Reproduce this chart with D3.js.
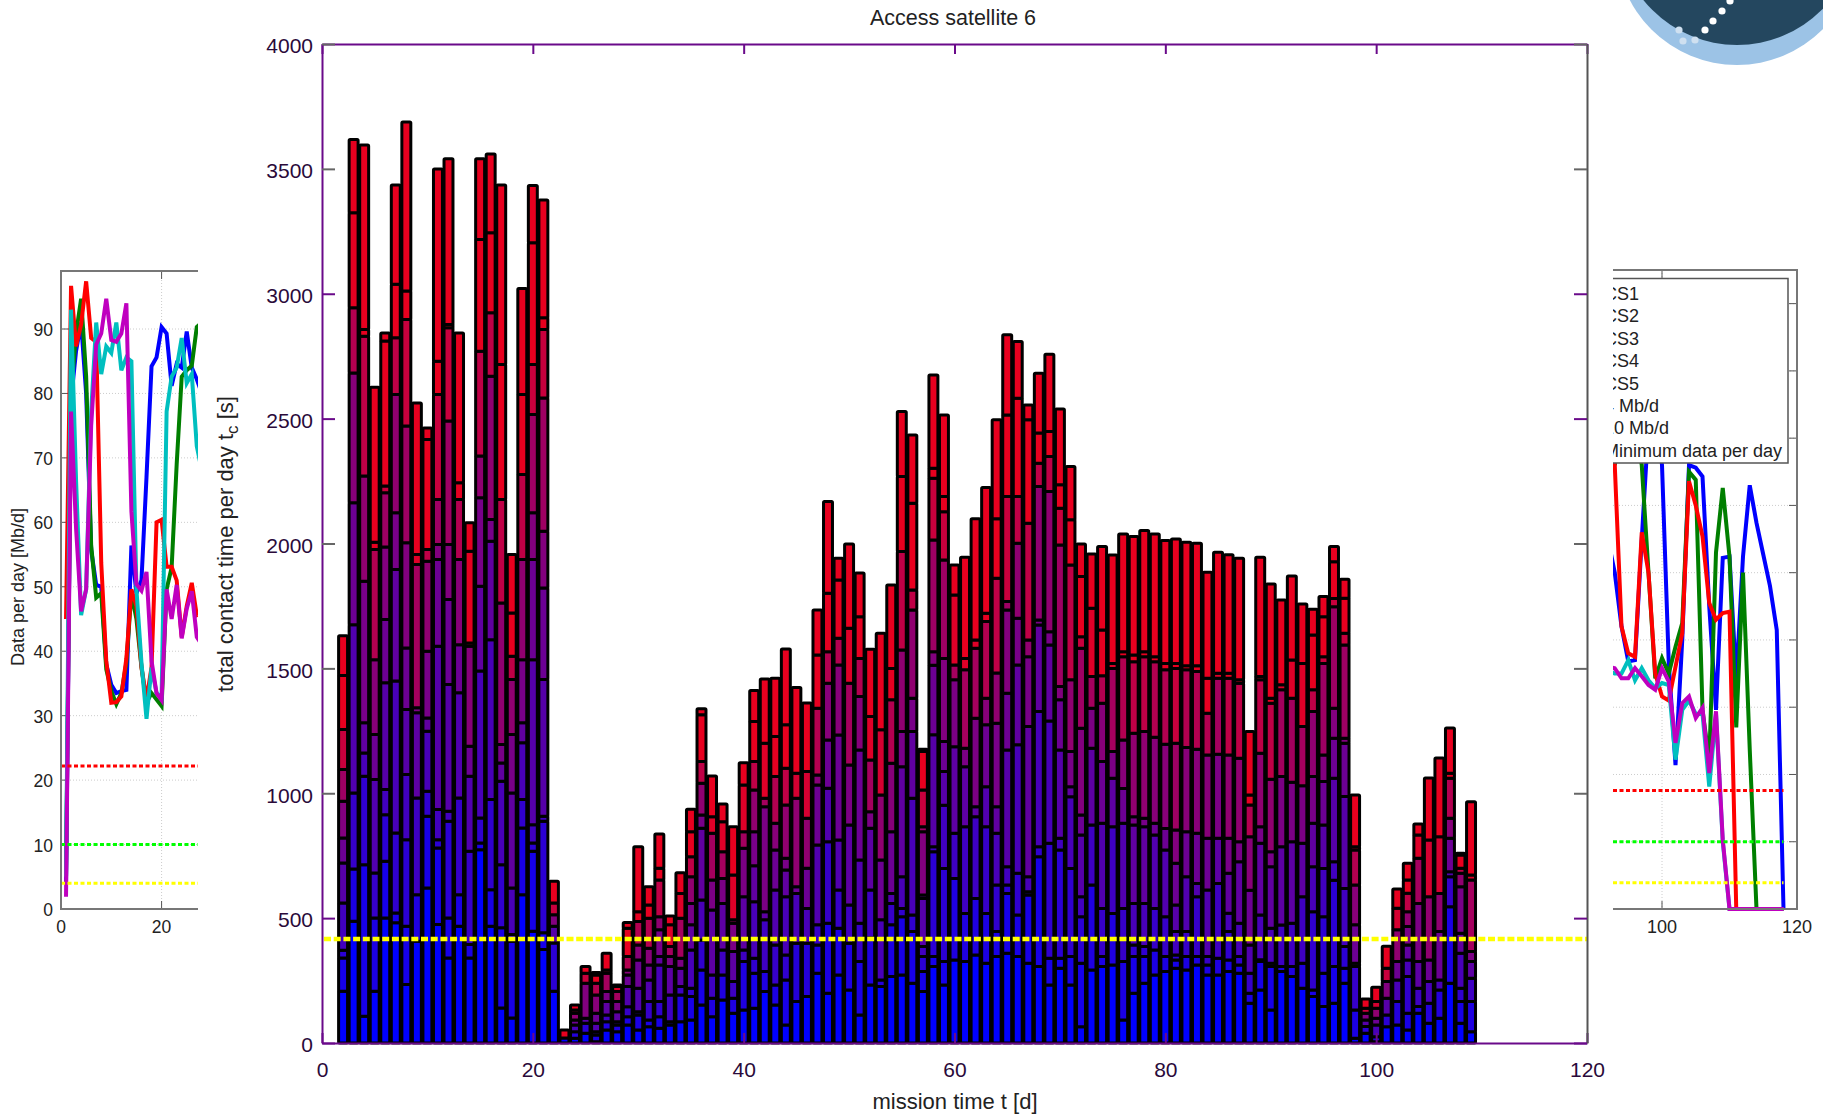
<!DOCTYPE html>
<html>

<head>
    <meta charset="utf-8">
    <title>Access satellite 6</title>
    <script src="https://d3js.org/d3.v7.min.js"></script>
    <style>
        body {
            margin: 0;
            background: white;
            font-family: "Liberation Sans", Arial, sans-serif;
        }

        svg {
            display: block;
        }
    </style>
</head>

<body>
    <div id="chart"></div>
    <script>

        // ---- main chart: cumulative contact time per day, one row per day ----
        var firstDay = 2;
        var contactTops = [
            [207, 340, 371, 561, 721, 821, 968, 1095, 1255, 1471, 1631],
            [487, 697, 1001, 1675, 2163, 2683, 2944, 3324, 3618],
            [107, 714, 1068, 1161, 1282, 1849, 2270, 2830, 2857, 3596],
            [207, 501, 681, 1055, 1235, 1535, 1976, 2005, 2626],
            [501, 728, 914, 1015, 1442, 1696, 1986, 2203, 2230, 2811, 2843],
            [481, 521, 841, 1449, 1896, 2123, 2597, 2824, 3038, 3435],
            [234, 467, 814, 1075, 1335, 1582, 2003, 2470, 2897, 3011, 3688],
            [407, 594, 981, 1322, 1342, 1916, 1956, 2563],
            [621, 908, 1008, 1248, 1301, 1569, 1929, 1976, 2416, 2462],
            [474, 781, 814, 935, 1589, 1936, 1996, 2176, 2597, 2730, 3499],
            [340, 501, 888, 928, 1435, 1776, 1996, 2490, 2864, 2877, 3541],
            [467, 594, 981, 1402, 1595, 1936, 2176, 2243, 2843],
            [340, 394, 768, 1068, 1188, 1589, 1602, 1969, 2083],
            [774, 801, 901, 1489, 1829, 2183, 2350, 2770, 3217, 3541],
            [467, 614, 975, 1615, 2009, 2096, 2670, 2924, 3244, 3560],
            [140, 461, 714, 1048, 1121, 1195, 1762, 2176, 2717, 3435],
            [100, 407, 434, 621, 1001, 1235, 1455, 1549, 1722, 1956],
            [594, 861, 975, 1202, 1282, 1535, 1936, 2276, 2597, 3021],
            [447, 768, 801, 874, 1535, 1936, 2123, 2517, 2717, 3204, 3433],
            [374, 441, 888, 908, 1455, 1822, 2049, 2583, 2857, 2904, 3375],
            [207, 400, 467, 514, 561, 648],
            [20, 52],
            [19, 45, 72, 92, 119, 132, 152],
            [39, 79, 99, 239, 279, 306],
            [5, 32, 45, 79, 119, 192, 239, 272, 282],
            [52, 85, 112, 166, 206, 279, 292, 359],
            [45, 72, 85, 125, 166, 206, 226, 232],
            [72, 105, 145, 226, 272, 292, 346, 459, 482],
            [52, 112, 125, 219, 332, 392, 486, 526, 786],
            [65, 92, 166, 252, 312, 379, 499, 553, 626],
            [59, 105, 166, 312, 346, 453, 506, 653, 700, 837],
            [72, 85, 192, 306, 346, 386, 473, 509],
            [85, 192, 226, 299, 339, 499, 599, 682],
            [92, 186, 219, 372, 473, 559, 666, 746, 846, 936],
            [152, 292, 412, 573, 860, 913, 1040, 1127, 1314, 1338],
            [105, 179, 272, 533, 653, 840, 906, 1069],
            [172, 272, 372, 559, 659, 766, 886, 957],
            [119, 179, 246, 366, 479, 493, 673, 866],
            [132, 326, 372, 586, 780, 846, 1033, 1122],
            [139, 279, 339, 566, 710, 846, 1013, 1127, 1287, 1411],
            [206, 286, 493, 526, 946, 980, 1200, 1457],
            [152, 232, 392, 613, 773, 880, 1067, 1227, 1460],
            [72, 252, 352, 586, 693, 740, 953, 1100, 1274, 1578],
            [166, 399, 599, 626, 980, 1080, 1423],
            [186, 399, 539, 700, 900, 1087, 1361],
            [279, 392, 473, 793, 1033, 1073, 1340, 1554, 1734],
            [199, 479, 806, 1020, 1213, 1440, 1567, 1801, 2168],
            [272, 459, 613, 813, 1233, 1514, 1621, 1854, 1941],
            [212, 399, 553, 873, 1113, 1440, 1661, 1998],
            [112, 326, 479, 733, 1173, 1387, 1540, 1707, 1882],
            [232, 420, 613, 860, 926, 1133, 1307, 1577],
            [226, 252, 493, 733, 993, 1254, 1641],
            [266, 473, 559, 599, 846, 1120, 1374, 1500, 1834],
            [272, 506, 539, 666, 1106, 1247, 1574, 1968, 2268, 2529],
            [239, 446, 513, 980, 1247, 1380, 1734, 1814, 2161, 2434],
            [206, 286, 346, 386, 579, 593, 846, 866, 1013, 1167, 1176],
            [306, 346, 766, 786, 1234, 1513, 1567, 2014, 2261, 2301, 2675],
            [232, 326, 699, 952, 1087, 1207, 1540, 1934, 2127, 2188, 2515],
            [332, 659, 840, 1186, 1454, 1514, 1794, 1914],
            [326, 519, 866, 1106, 1180, 1494, 1540, 1945],
            [352, 579, 906, 946, 1300, 1581, 1614, 2099],
            [319, 519, 866, 1026, 1274, 1380, 1688, 1721, 2224],
            [346, 446, 633, 840, 946, 1280, 1481, 1861, 2099, 2495],
            [359, 599, 633, 706, 1173, 1400, 1734, 1768, 2188, 2515, 2836],
            [346, 513, 680, 1194, 1514, 1701, 2001, 2188, 2582, 2809],
            [319, 593, 606, 666, 1267, 1547, 1614, 2081, 2495, 2555],
            [306, 746, 786, 1327, 1674, 1694, 2228, 2321, 2442, 2682],
            [232, 339, 800, 1289, 1594, 1647, 2208, 2348, 2448, 2758],
            [299, 339, 773, 820, 1173, 1374, 1427, 1994, 2141, 2235, 2539],
            [232, 346, 699, 986, 1026, 1167, 1454, 1914, 2095, 2308],
            [65, 319, 506, 586, 833, 913, 1260, 1581, 1627, 1868, 1998],
            [292, 633, 873, 1180, 1340, 1467, 1741, 1958],
            [306, 346, 539, 880, 1127, 1360, 1470, 1654, 1988],
            [312, 519, 866, 1060, 1167, 1500, 1520, 1954],
            [92, 326, 539, 880, 1019, 1213, 1547, 1567, 2038],
            [199, 346, 392, 559, 873, 906, 1240, 1527, 1554, 2028],
            [239, 346, 386, 559, 866, 900, 1247, 1547, 1567, 2052],
            [272, 372, 539, 833, 880, 1224, 1527, 1547, 2038],
            [286, 346, 506, 773, 859, 1196, 1494, 1520, 2012],
            [299, 332, 352, 446, 553, 720, 853, 1200, 1500, 1520, 2018],
            [292, 346, 446, 666, 846, 1183, 1494, 1511, 2005],
            [312, 346, 586, 639, 840, 1176, 1487, 1511, 2001],
            [272, 312, 346, 613, 820, 1153, 1320, 1460, 1885],
            [272, 339, 639, 820, 1156, 1460, 1480, 1965],
            [286, 332, 446, 520, 680, 820, 1153, 1460, 1480, 1955],
            [279, 312, 346, 479, 726, 806, 1140, 1440, 1454, 1941],
            [159, 199, 279, 392, 612, 826, 953, 993, 1247],
            [212, 326, 333, 513, 800, 866, 1160, 1454, 1467, 1945],
            [132, 306, 319, 459, 706, 766, 1056, 1360, 1380, 1838],
            [286, 306, 472, 786, 1067, 1414, 1434, 1774],
            [266, 306, 479, 806, 1044, 1380, 1534, 1870],
            [219, 319, 586, 800, 1030, 1267, 1520, 1758],
            [186, 212, 526, 706, 880, 1067, 1327, 1414, 1634, 1737],
            [146, 279, 506, 699, 873, 1047, 1153, 1520, 1547, 1707, 1788],
            [159, 306, 652, 726, 1060, 1220, 1340, 1747, 1780, 1927, 1988],
            [239, 299, 386, 619, 987, 1200, 1220, 1594, 1641, 1781, 1857],
            [19, 132, 306, 319, 473, 633, 773, 786, 993],
            [39, 66, 92, 119, 139, 176],
            [5, 25, 72, 99, 139, 166, 223],
            [65, 112, 179, 246, 299, 387],
            [72, 166, 252, 326, 453, 540, 617],
            [52, 119, 266, 332, 392, 466, 526, 600, 653, 720],
            [119, 146, 219, 326, 559, 740, 833, 877],
            [79, 159, 246, 332, 586, 813, 1061],
            [99, 212, 252, 446, 599, 826, 1141],
            [239, 546, 666, 686, 820, 900, 1060, 1080, 1261],
            [79, 166, 219, 359, 439, 626, 680, 700, 753, 760],
            [45, 166, 259, 326, 366, 653, 673, 966]
        ];
        var contactLimit = 416;   // yellow dashed level
        var mainXTicks = [0, 20, 40, 60, 80, 100, 120];
        var mainYTicks = [0, 500, 1000, 1500, 2000, 2500, 3000, 3500, 4000];

        // ---- side panels: data per day for each ground station ----
        var stations = ["CS1", "CS2", "CS3", "CS4", "CS5"];
        var stationColors = ["#0000ff", "#007f00", "#ff0000", "#00bfbf", "#bf00bf"];

        var leftDays = d3.range(1, 29);
        var leftCS1 = [4, 79, 86.6, 91, 80, 55.7, 50.3, 50, 38, 34.8, 33.5, 33.8, 34, 56.4, 49, 51, 67, 84.2, 85.6, 90.3, 89.3, 81.2, 84.6, 84, 89.6, 84, 82.2, 80];
        var leftCS2 = [5, 80, 89.3, 94.7, 82.6, 56.4, 48.3, 49, 37.2, 33.8, 31.8, 33.5, 38.2, 49, 45, 37.5, 32, 33.5, 32.5, 31.5, 49.6, 53, 69, 82.6, 83.6, 84.3, 90.3, 91];
        var leftCS3 = [45, 96.7, 87.3, 90.7, 97.4, 88.6, 88, 53.7, 38.5, 32, 32.1, 33, 38.9, 49.6, 47, 37.5, 32.5, 37.5, 60, 60.4, 53.1, 53.1, 51, 42.2, 47, 50.6, 45.6, 46];
        var leftCS4 = [5, 93, 66.4, 45.6, 49.6, 77.2, 91, 83, 87.3, 86.3, 91, 83.6, 85.6, 85, 49.6, 38.2, 29.5, 37.5, 33.5, 32.8, 77.2, 82.6, 84, 88.6, 81.6, 83, 71.8, 68];
        var leftCS5 = [1.9, 77.2, 59, 46.2, 49.6, 75, 87.6, 89.3, 94.7, 88.3, 88, 89.3, 94, 61.7, 50.4, 49.4, 52.3, 38.5, 33.5, 32.4, 49.6, 45, 50.3, 42, 46.6, 49.3, 42.2, 41];
        var leftLimits = [22.2, 10, 4];

        var rightDays = d3.range(92, 119);
        var rightCS1 = [55, 50, 42, 36.8, 37, 55, 72, 75, 66, 36.6, 21.4, 40, 66, 65.6, 64.3, 45, 29.6, 52.2, 52.4, 34, 52.4, 63, 57.4, 52.7, 48, 41.5, 0];
        var rightCS2 = [70, 66, 72, 72, 72, 66, 50, 34.3, 37.3, 35, 39, 42.5, 65, 63.8, 29.6, 22, 53, 62.6, 52.4, 27, 50, 23.7, 0, 0, 0, 0, 0];
        var rightCS3 = [72, 66, 42, 38, 37.5, 56, 50, 35, 31.6, 31, 36, 41, 63.6, 60, 55.4, 45.5, 43, 44, 44.2, 0, 0, 0, 0, 0, 0, 0, 0];
        var rightCS4 = [35.5, 35, 35, 37, 34, 35.8, 34, 32.8, 33.6, 33.3, 22.2, 29.6, 31, 29, 29, 18.2, 29, 10, 0, 0, 0, 0, 0, 0, 0, 0, 0];
        var rightCS5 = [36, 35.8, 34.3, 34.3, 35.8, 34.6, 33.3, 32.6, 35.8, 33.8, 24.7, 30.6, 31.6, 28.4, 29.9, 20.2, 29.4, 10.3, 0, 0, 0, 0, 0, 0, 0, 0, 0];
        var rightLimits = [17.6, 10, 3.9];

        var limitColors = ["#ff0000", "#00ff00", "#ffff00"];
        var legendLabels = ["CS1", "CS2", "CS3", "CS4", "CS5", "4 Mb/d", "10 Mb/d", "Minimum data per day"];

        var width = 1823, height = 1116;
        var purple = "#6a0a8a";

        var svg = d3.select("#chart").append("svg")
            .attr("width", width)
            .attr("height", height)
            .style("background", "white");

        var defs = svg.append("defs");

        // side panels go first, the main chart sits over them
        function drawPanel(id, opts) {
            var x = d3.scaleLinear().domain(opts.xDomain).range([opts.left, opts.right]);
            var y = d3.scaleLinear().domain([0, opts.yMax]).range([opts.bottom, opts.top]);

            defs.append("clipPath").attr("id", id)
                .append("rect")
                .attr("x", opts.left).attr("y", opts.top - 2)
                .attr("width", opts.right - opts.left).attr("height", opts.bottom - opts.top + 4);

            var g = svg.append("g").attr("clip-path", "url(#" + id + ")");

            // dotted grid
            g.selectAll(".gy").data(opts.yTicks).enter().append("line")
                .attr("x1", opts.left).attr("x2", opts.right)
                .attr("y1", y).attr("y2", y)
                .style("stroke", "#ccc").style("stroke-dasharray", "1,2");
            g.selectAll(".gx").data(opts.xTicks).enter().append("line")
                .attr("x1", x).attr("x2", x)
                .attr("y1", opts.top).attr("y2", opts.bottom)
                .style("stroke", "#ccc").style("stroke-dasharray", "1,2");

            // inward ticks
            g.selectAll(".ty").data(opts.yTicks).enter().append("line")
                .attr("x1", opts.tickSide == "right" ? opts.right - 8 : opts.left)
                .attr("x2", opts.tickSide == "right" ? opts.right : opts.left + 8)
                .attr("y1", y).attr("y2", y)
                .style("stroke", "#555");
            g.selectAll(".tx").data(opts.xTicks).enter().append("line")
                .attr("x1", x).attr("x2", x)
                .attr("y1", opts.top).attr("y2", opts.top + 8)
                .style("stroke", "#555");
            g.selectAll(".bx").data(opts.xTicks).enter().append("line")
                .attr("x1", x).attr("x2", x)
                .attr("y1", opts.bottom - 8).attr("y2", opts.bottom)
                .style("stroke", "#555");

            // station curves
            var line = d3.line()
                .x(function (d, i) { return x(opts.days[i]); })
                .y(function (d) { return y(d); });

            g.selectAll(".station").data(opts.series).enter().append("path")
                .attr("d", line)
                .style("fill", "none")
                .style("stroke", function (d, i) { return stationColors[i]; })
                .style("stroke-width", 4)
                .style("stroke-linejoin", "miter");

            // minimum data levels
            g.selectAll(".limit").data(opts.limits).enter().append("line")
                .attr("x1", x(opts.limitFrom)).attr("x2", x(opts.limitTo))
                .attr("y1", y).attr("y2", y)
                .style("stroke", function (d, i) { return limitColors[i]; })
                .style("stroke-width", 3)
                .style("stroke-dasharray", "4,2.5");

            // frame, left open where the main chart covers it
            var frame = svg.append("g").style("fill", "none").style("stroke", "#777").style("stroke-width", 2);
            if (opts.tickSide == "right") {
                frame.append("path").attr("d", "M" + opts.left + "," + opts.top + "H" + opts.right + "V" + opts.bottom + "H" + opts.left);
            } else {
                frame.append("path").attr("d", "M" + opts.right + "," + opts.top + "H" + opts.left + "V" + opts.bottom + "H" + opts.right);
            }

            // tick labels
            svg.append("g").selectAll("text").data(opts.xTicks).enter().append("text")
                .attr("x", x)
                .attr("y", opts.bottom + 24)
                .attr("text-anchor", "middle")
                .style("font-size", opts.fontSize + "px")
                .style("fill", "#222")
                .text(function (d) { return d; });

            if (opts.tickSide != "right") {
                svg.append("g").selectAll("text").data(opts.yTicks).enter().append("text")
                    .attr("x", opts.left - 8)
                    .attr("y", function (d) { return y(d) + 7; })
                    .attr("text-anchor", "end")
                    .style("font-size", opts.fontSize + "px")
                    .style("fill", "#222")
                    .text(function (d) { return d; });
            }
        }

        drawPanel("leftClip", {
            left: 61, right: 198, top: 271, bottom: 909,
            xDomain: [0, 27.24], yMax: 99,
            xTicks: [0, 20], yTicks: [0, 10, 20, 30, 40, 50, 60, 70, 80, 90],
            days: leftDays,
            series: [leftCS1, leftCS2, leftCS3, leftCS4, leftCS5],
            limits: leftLimits, limitFrom: 0, limitTo: 27.24,
            tickSide: "left", fontSize: 17.5
        });

        drawPanel("rightClip", {
            left: 1613, right: 1797, top: 270, bottom: 909,
            xDomain: [92.74, 120], yMax: 95,
            xTicks: [100, 120], yTicks: [10, 20, 30, 40, 50, 60, 70, 80, 90],
            days: rightDays,
            series: [rightCS1, rightCS2, rightCS3, rightCS4, rightCS5],
            limits: rightLimits, limitFrom: 92.74, limitTo: 118,
            tickSide: "right", fontSize: 18
        });

        // y label of the left panel
        svg.append("text")
            .attr("transform", "translate(24,587) rotate(-90)")
            .attr("text-anchor", "middle")
            .style("font-size", "18px")
            .style("fill", "#222")
            .text("Data per day  [Mb/d]");

        // legend of the right panel, its left edge is cut off like the curves
        var legend = svg.append("g").attr("clip-path", "url(#legendClip)");
        defs.append("clipPath").attr("id", "legendClip")
            .append("rect").attr("x", 1613).attr("y", 270).attr("width", 200).attr("height", 210);

        legend.append("rect")
            .attr("x", 1590).attr("y", 278.5)
            .attr("width", 198).attr("height", 184.5)
            .style("fill", "white")
            .style("stroke", "#555")
            .style("stroke-width", 1.5);

        legend.selectAll("text").data(legendLabels).enter().append("text")
            .attr("x", 1604)
            .attr("y", function (d, i) { return 300 + i * 22.4; })
            .style("font-size", "18px")
            .style("fill", "#222")
            .text(function (d) { return d; });

        // piece of the logo in the corner
        var logo = svg.append("g");
        logo.append("ellipse").attr("cx", 1737).attr("cy", -56).attr("rx", 121).attr("ry", 121).style("fill", "#9cc3e6");
        logo.append("ellipse").attr("cx", 1737).attr("cy", -75).attr("rx", 120).attr("ry", 120).style("fill", "#24475f");
        logo.selectAll("circle")
            .data([[1730, 1, "#fff"], [1722, 11, "#fff"], [1713, 21, "#fff"], [1705, 30, "#fff"], [1679, 30, "#cfe0f0"], [1683, 41, "#cfe0f0"], [1695, 40, "#cfe0f0"]])
            .enter().append("circle")
            .attr("cx", function (d) { return d[0]; })
            .attr("cy", function (d) { return d[1]; })
            .attr("r", 3.6)
            .style("fill", function (d) { return d[2]; });

        // ---- main chart ----
        var margin = { top: 44, right: 236, bottom: 73, left: 322 };

        var x = d3.scaleLinear().domain([0, 120]).range([margin.left, width - margin.right]);
        var y = d3.scaleLinear().domain([0, 4000]).range([height - margin.bottom, margin.top]);

        // bottom blue, top red, whatever the number of segments of that day
        var segmentColor = d3.scaleLinear()
            .domain([0, 0.667, 0.78, 0.88])
            .range(["#0000ff", "#900070", "#c00045", "#e8001f"])
            .clamp(true);

        var barWidth = x(0.85) - x(0);

        var dayBars = svg.append("g").selectAll("g")
            .data(contactTops)
            .enter()
            .append("g");

        dayBars.selectAll("rect")
            .data(function (tops, i) {
                return tops.map(function (top, k) {
                    return { day: firstDay + i, from: k ? tops[k - 1] : 0, to: top, t: k / (tops.length - 1) };
                });
            })
            .enter()
            .append("rect")
            .attr("x", function (d) { return x(d.day) - barWidth / 2; })
            .attr("y", function (d) { return y(d.to); })
            .attr("width", barWidth)
            .attr("height", function (d) { return y(d.from) - y(d.to); })
            .attr("rx", 1)
            .style("fill", function (d) { return segmentColor(d.t); })
            .style("stroke", "black")
            .style("stroke-width", 3);

        svg.append("line")
            .attr("x1", x(0) + 2).attr("x2", x(120))
            .attr("y1", y(contactLimit)).attr("y2", y(contactLimit))
            .style("stroke", "#ffff00")
            .style("stroke-width", 4.5)
            .style("stroke-dasharray", "7,2.7");

        // axes with inward ticks on all four sides
        var xBottom = svg.append("g")
            .attr("transform", "translate(0," + y(0) + ")")
            .call(d3.axisBottom(x).tickValues(mainXTicks).tickSizeInner(-10).tickSizeOuter(0).tickPadding(19));
        var xTop = svg.append("g")
            .attr("transform", "translate(0," + y(4000) + ")")
            .call(d3.axisTop(x).tickValues(mainXTicks).tickSizeInner(-10).tickSizeOuter(0).tickFormat(""));
        var yLeft = svg.append("g")
            .attr("transform", "translate(" + x(0) + ",0)")
            .call(d3.axisLeft(y).tickValues(mainYTicks).tickFormat(d3.format("d")).tickSizeInner(-13).tickSizeOuter(0).tickPadding(9));
        var yRight = svg.append("g")
            .attr("transform", "translate(" + x(120) + ",0)")
            .call(d3.axisRight(y).tickValues(mainYTicks).tickSizeInner(-13).tickSizeOuter(0).tickFormat(""));

        [xBottom, xTop, yLeft, yRight].forEach(function (axis) {
            axis.selectAll(".domain").style("stroke", purple).style("stroke-width", 2);
            axis.selectAll("line")
                .style("stroke", function (d) { return [500, 2500, 3000].indexOf(d) >= 0 || d <= 120 ? purple : "#666"; })
                .style("stroke-width", 2);
            axis.selectAll("text")
                .style("font-family", "'Liberation Sans', Arial, sans-serif")
                .style("font-size", "21px")
                .style("fill", "#2a0a3a");
        });
        yRight.select(".domain").style("stroke", "#555");
        yLeft.selectAll("text").attr("dy", "0.42em");

        svg.append("text")
            .attr("x", 953).attr("y", 25)
            .attr("text-anchor", "middle")
            .style("font-size", "21.5px")
            .style("fill", "#222")
            .text("Access satellite 6");

        svg.append("text")
            .attr("x", 955).attr("y", 1109)
            .attr("text-anchor", "middle")
            .style("font-size", "22px")
            .style("fill", "#222")
            .text("mission time t [d]");

        var yLabel = svg.append("text")
            .attr("transform", "translate(233,544) rotate(-90)")
            .attr("text-anchor", "middle")
            .style("font-size", "22px")
            .style("fill", "#222");
        yLabel.append("tspan").text("total contact time per day t");
        yLabel.append("tspan").attr("dy", 5).style("font-size", "17px").text("c");
        yLabel.append("tspan").attr("dy", -5).text(" [s]");

    </script>
</body>

</html>
